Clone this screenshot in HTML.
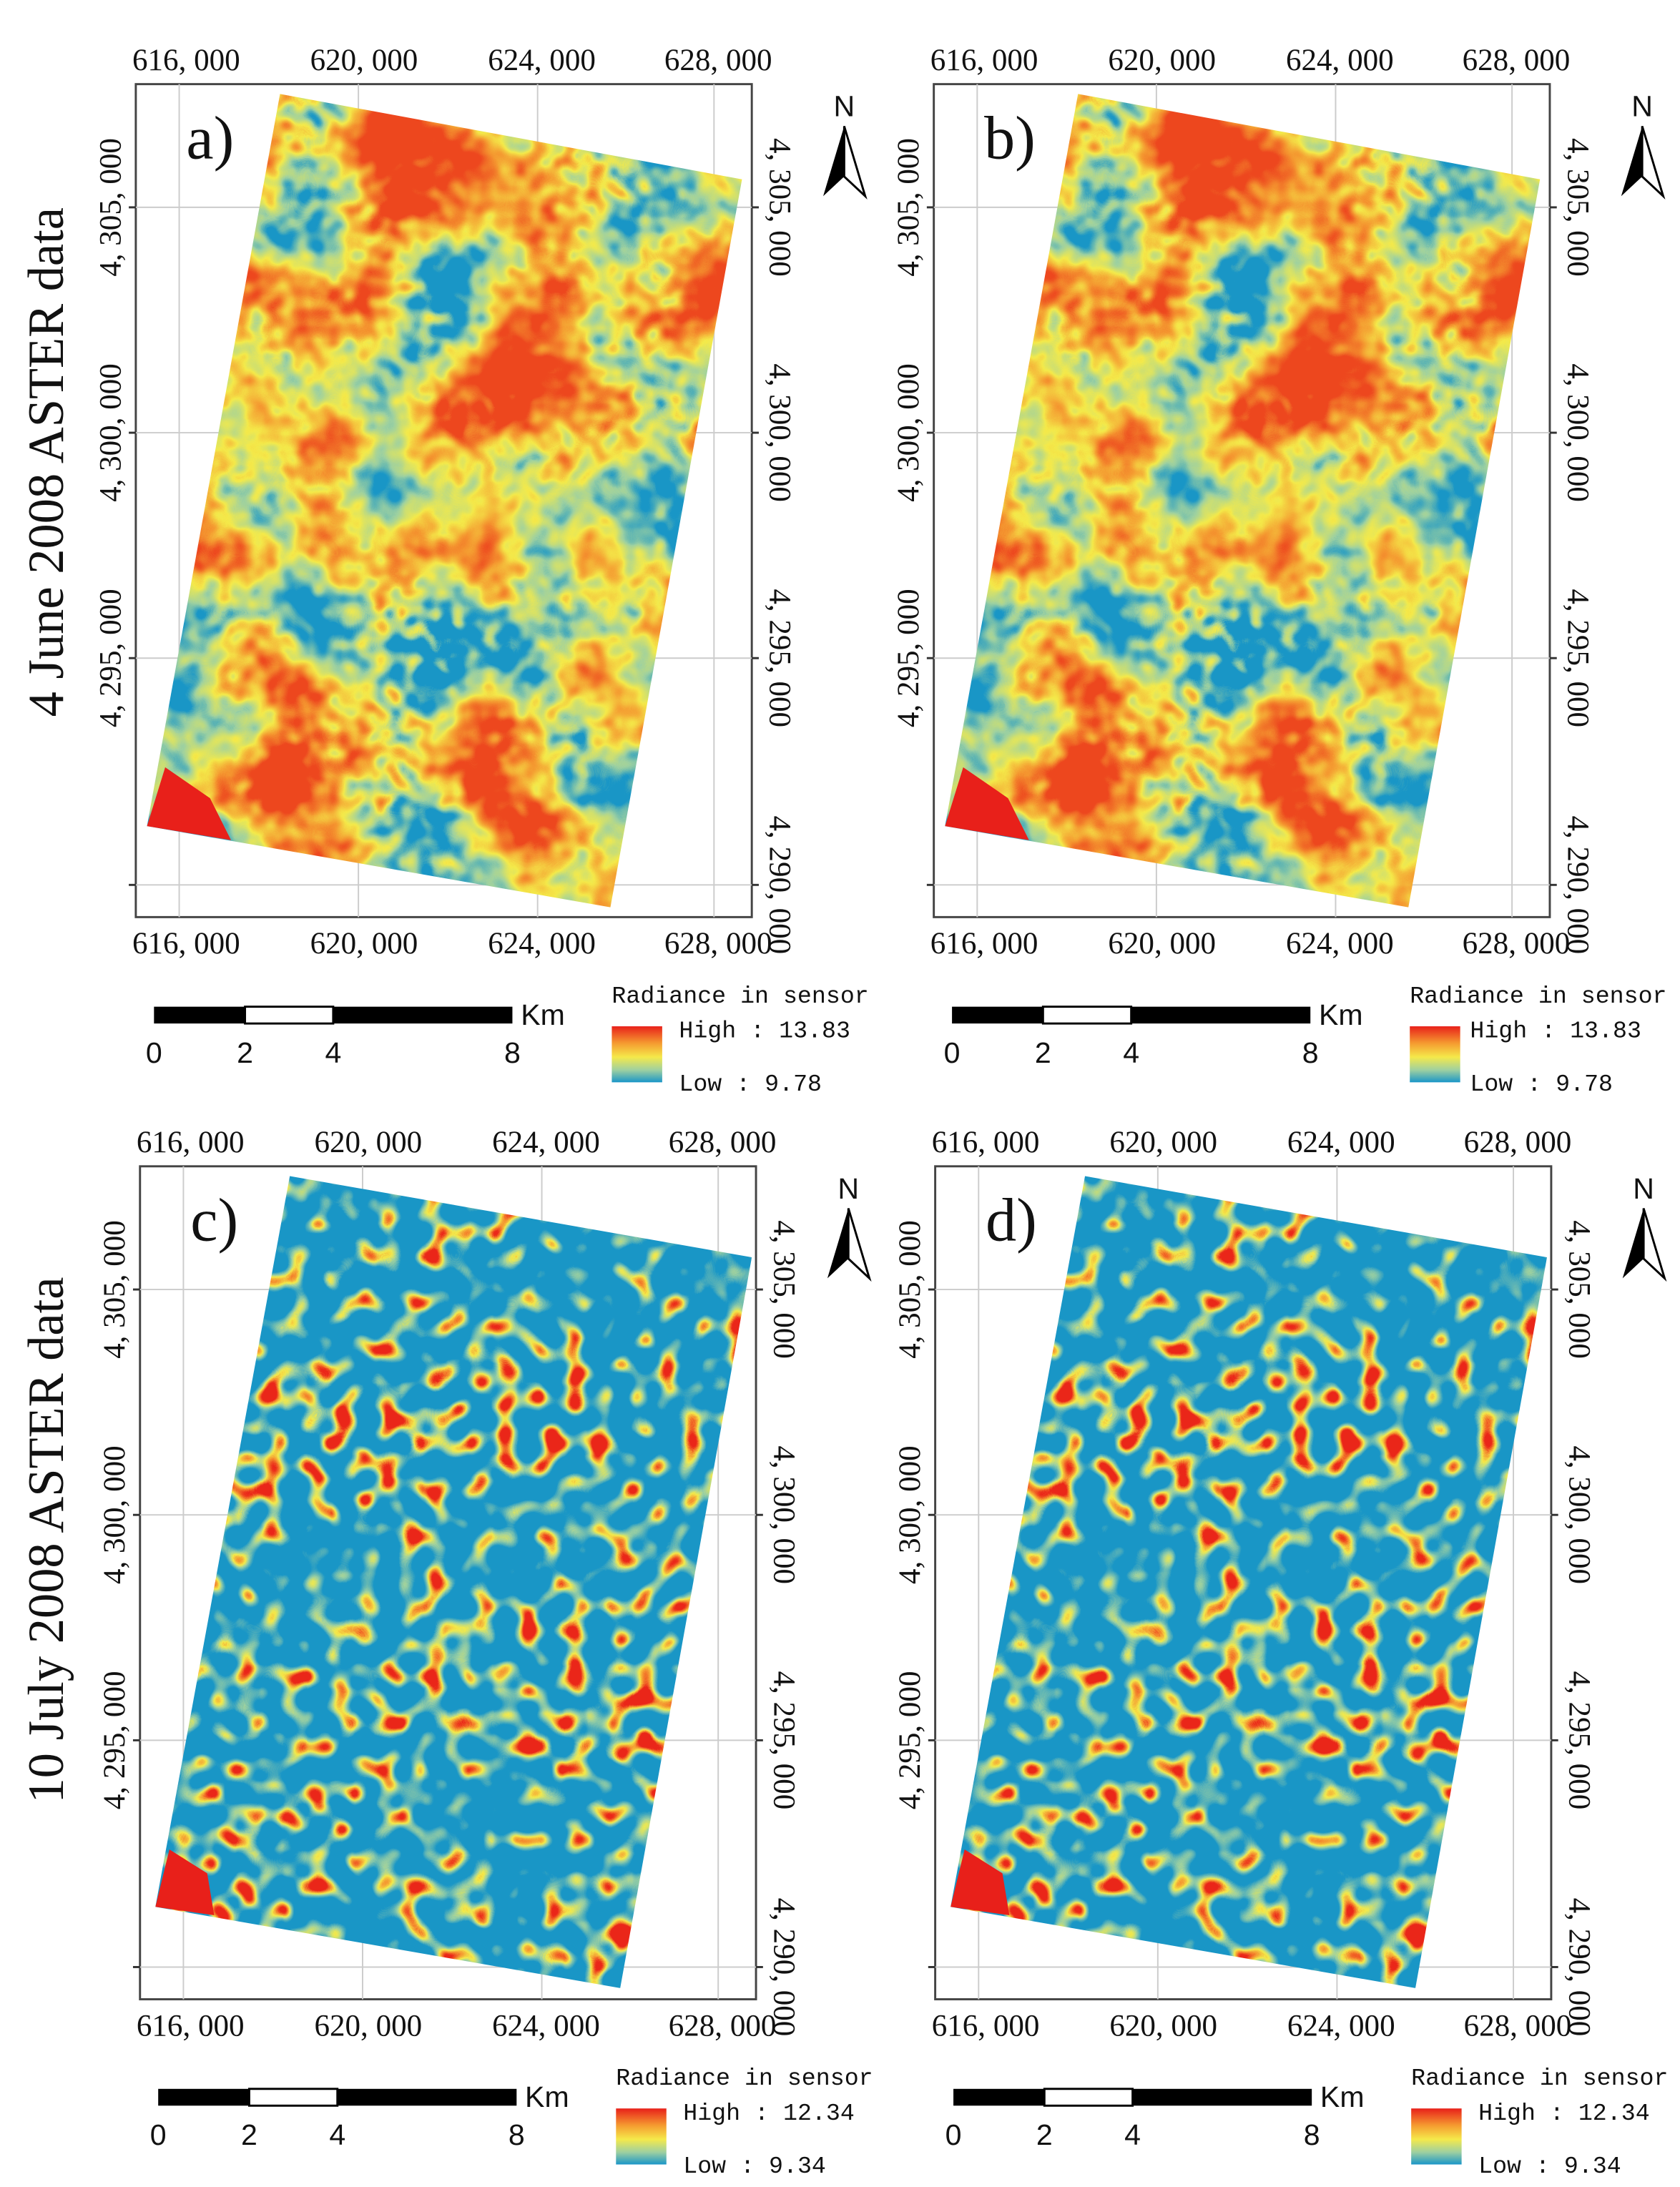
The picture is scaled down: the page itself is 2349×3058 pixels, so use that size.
<!DOCTYPE html>
<html><head><meta charset="utf-8"><style>
html,body{margin:0;padding:0;background:#fff}
svg{display:block}
.t{font-family:"Liberation Serif","Noto Serif CJK SC",serif;font-size:22px;fill:#111}
.s{font-family:"Liberation Sans",sans-serif;font-size:21px;fill:#111}
.m{font-family:"Liberation Mono",monospace;font-size:17px;fill:#111}
.big{font-family:"Liberation Serif",serif;font-size:36px;fill:#111}
.lab{font-family:"Liberation Serif",serif;font-size:44px;fill:#111}
</style></head><body>
<svg width="2349" height="3058" viewBox="0 0 1200 1562" xmlns="http://www.w3.org/2000/svg">
<defs>
<linearGradient id="ramp" x1="0" y1="0" x2="0" y2="1">
<stop offset="0" stop-color="#e8201a"/><stop offset="0.3" stop-color="#f59a30"/><stop offset="0.55" stop-color="#f5e94a"/><stop offset="0.78" stop-color="#9fd0a0"/><stop offset="1" stop-color="#1a96c8"/>
</linearGradient>
<filter id="fA" x="0" y="0" width="1" height="1" color-interpolation-filters="sRGB">
<feTurbulence type="fractalNoise" baseFrequency="0.012" numOctaves="2" seed="3" result="n1"/>
<feTurbulence type="fractalNoise" baseFrequency="0.09" numOctaves="1" seed="7" result="n2"/>
<feComposite in="n1" in2="n2" operator="arithmetic" k2="0.75" k3="0.25"/>
<feColorMatrix type="matrix" values="3.3 0 0 0 -1.15  3.3 0 0 0 -1.15  3.3 0 0 0 -1.15  0 0 0 0 1"/>
<feComponentTransfer>
<feFuncR type="table" tableValues="0.10 0.62 0.96 0.96 0.93"/>
<feFuncG type="table" tableValues="0.59 0.82 0.92 0.60 0.28"/>
<feFuncB type="table" tableValues="0.78 0.63 0.29 0.19 0.12"/>
</feComponentTransfer>
</filter>
<filter id="fC" x="0" y="0" width="1" height="1" color-interpolation-filters="sRGB">
<feTurbulence type="fractalNoise" baseFrequency="0.06" numOctaves="1" seed="11" result="n1"/>
<feTurbulence type="fractalNoise" baseFrequency="0.01" numOctaves="1" seed="5" result="n2"/>
<feComposite in="n1" in2="n2" operator="arithmetic" k2="0.8" k3="0.2"/>
<feColorMatrix type="matrix" values="4.5 0 0 0 -2.05  4.5 0 0 0 -2.05  4.5 0 0 0 -2.05  0 0 0 0 1"/>
<feComponentTransfer>
<feFuncR type="table" tableValues="0.10 0.10 0.35 0.62 0.96 0.96 0.92"/>
<feFuncG type="table" tableValues="0.59 0.59 0.70 0.82 0.92 0.58 0.15"/>
<feFuncB type="table" tableValues="0.78 0.78 0.72 0.63 0.29 0.19 0.10"/>
</feComponentTransfer>
</filter>
<clipPath id="pA"><polygon points="200,67 530,128 436,648 105,590"/></clipPath>
<clipPath id="pC"><polygon points="204,67 534,125 440,647 108,589"/></clipPath>
<g id="frame">
<rect x="97" y="60" width="440" height="595" fill="none" stroke="#444" stroke-width="1.5"/>
<g stroke="#ccc" stroke-width="1">
<line x1="128" y1="60" x2="128" y2="655"/><line x1="256" y1="60" x2="256" y2="655"/><line x1="384" y1="60" x2="384" y2="655"/><line x1="510" y1="60" x2="510" y2="655"/>
<line x1="97" y1="148" x2="537" y2="148"/><line x1="97" y1="309" x2="537" y2="309"/><line x1="97" y1="470" x2="537" y2="470"/><line x1="97" y1="632" x2="537" y2="632"/>
</g>
<g stroke="#333" stroke-width="1.5">
<line x1="92" y1="148" x2="97" y2="148"/><line x1="92" y1="309" x2="97" y2="309"/><line x1="92" y1="470" x2="97" y2="470"/><line x1="92" y1="632" x2="97" y2="632"/>
<line x1="537" y1="148" x2="542" y2="148"/><line x1="537" y1="309" x2="542" y2="309"/><line x1="537" y1="470" x2="542" y2="470"/><line x1="537" y1="632" x2="542" y2="632"/>
</g>
<g class="t" text-anchor="middle">
<text x="133" y="50">616, 000</text><text x="260" y="50">620, 000</text><text x="387" y="50">624, 000</text><text x="513" y="50">628, 000</text>
<text x="133" y="681">616, 000</text><text x="260" y="681">620, 000</text><text x="387" y="681">624, 000</text><text x="513" y="681">628, 000</text>
<text transform="translate(86,148) rotate(-90)">4, 305, 000</text><text transform="translate(86,309) rotate(-90)">4, 300, 000</text><text transform="translate(86,470) rotate(-90)">4, 295, 000</text>
<text transform="translate(550,148) rotate(90)">4, 305, 000</text><text transform="translate(550,309) rotate(90)">4, 300, 000</text><text transform="translate(550,470) rotate(90)">4, 295, 000</text><text transform="translate(550,632) rotate(90)">4, 290, 000</text>
</g>
<text x="603" y="83" class="s" text-anchor="middle" font-size="18">N</text>
<polygon points="603,90 588,140 603,126" fill="#000"/>
<polygon points="603,90 618,140 603,126" fill="#fff" stroke="#000" stroke-width="1.5"/>
<rect x="110" y="719" width="65" height="12" fill="#000"/><rect x="175" y="719" width="63" height="12" fill="#fff" stroke="#000" stroke-width="1.5"/><rect x="238" y="719" width="128" height="12" fill="#000"/>
<g class="s" text-anchor="middle"><text x="110" y="759">0</text><text x="175" y="759">2</text><text x="238" y="759">4</text><text x="366" y="759">8</text></g>
<text x="372" y="732" class="s">Km</text>
<text x="437" y="716" class="m">Radiance in sensor</text>
<rect x="437" y="733" width="36" height="40" fill="url(#ramp)"/>
</g>
</defs>

<g><use href="#frame"/>
<rect x="100" y="60" width="435" height="595" filter="url(#fA)" clip-path="url(#pA)"/>
<polygon points="105,590 118,548 150,570 165,600" fill="#e8201a"/>
<text x="133" y="113" class="lab">a)</text>
<text x="485" y="741" class="m">High : 13.83</text><text x="485" y="779" class="m">Low : 9.78</text></g>
<g transform="translate(570,0)"><use href="#frame"/>
<rect x="100" y="60" width="435" height="595" filter="url(#fA)" clip-path="url(#pA)"/>
<polygon points="105,590 118,548 150,570 165,600" fill="#e8201a"/>
<text x="133" y="113" class="lab">b)</text>
<text x="480" y="741" class="m">High : 13.83</text><text x="480" y="779" class="m">Low : 9.78</text></g>
<g transform="translate(3,773)"><use href="#frame"/>
<rect x="100" y="60" width="440" height="595" filter="url(#fC)" clip-path="url(#pC)"/>
<polygon points="108,589 118,548 145,565 150,595" fill="#e8201a"/>
<text x="133" y="113" class="lab">c)</text>
<text x="485" y="741" class="m">High : 12.34</text><text x="485" y="779" class="m">Low : 9.34</text></g>
<g transform="translate(571,773)"><use href="#frame"/>
<rect x="100" y="60" width="440" height="595" filter="url(#fC)" clip-path="url(#pC)"/>
<polygon points="108,589 118,548 145,565 150,595" fill="#e8201a"/>
<text x="133" y="113" class="lab">d)</text>
<text x="485" y="741" class="m">High : 12.34</text><text x="485" y="779" class="m">Low : 9.34</text></g>

<text transform="translate(45,330) rotate(-90)" class="big" text-anchor="middle">4 June 2008 ASTER data</text>
<text transform="translate(45,1100) rotate(-90)" class="big" text-anchor="middle">10 July 2008 ASTER data</text>
</svg>
</body></html>
